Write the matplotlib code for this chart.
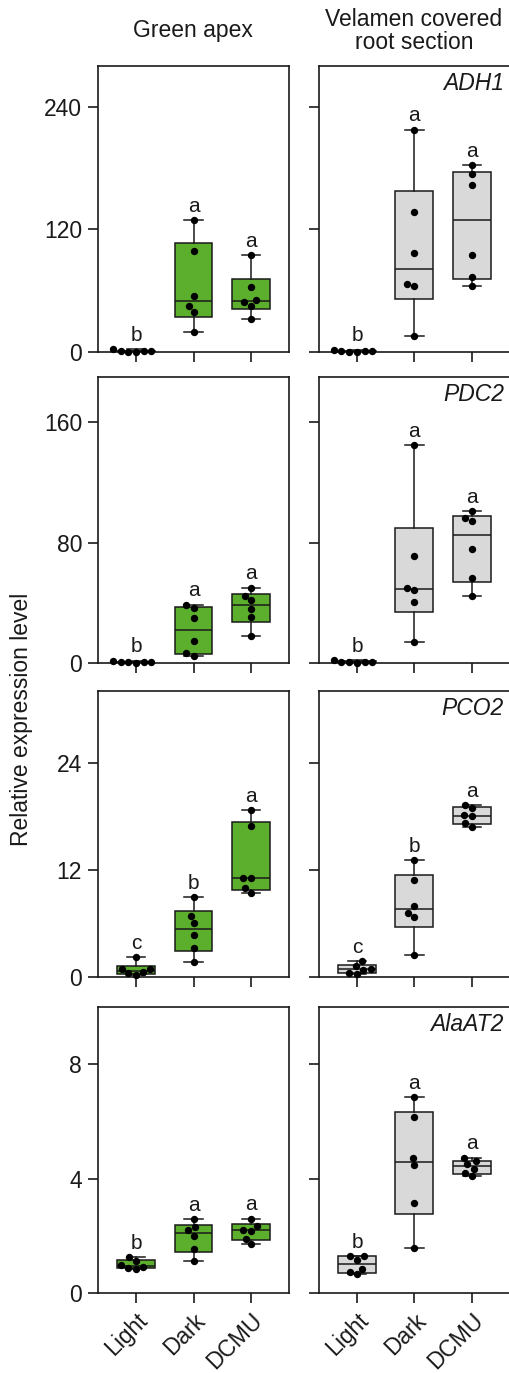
import matplotlib
matplotlib.use("Agg")
import matplotlib.pyplot as plt
import numpy as np
import seaborn as sns

plt.rcParams['font.family'] = ['Liberation Sans', 'DejaVu Sans']

conditions = ['Light', 'Dark', 'DCMU']
genes = ['ADH1', 'PDC2', 'PCO2', 'AlaAT2']
tissues = ['Green apex', 'Velamen covered\nroot section']

# six replicates per condition (Light, Dark, DCMU)
apex_adh1 = [[0.4, 0.6, 0.8, 2.5, 0.7, 0.3],
             [129.3, 98.9, 55.3, 44.9, 39.3, 19.3],
             [95.0, 63.2, 50.8, 48.5, 45.2, 32.7]]
root_adh1 = [[0.5, 0.7, 0.4, 2.2, 0.6, 0.3],
             [217.7, 137.5, 96.6, 66.8, 64.5, 15.4],
             [182.7, 173.9, 163.1, 95.0, 73.7, 64.8]]
apex_pdc2 = [[0.5, 0.8, 0.4, 1.5, 0.6, 0.3],
             [38.8, 36.8, 30.0, 14.4, 6.5, 4.9],
             [49.9, 44.8, 41.7, 36.0, 30.4, 18.2]]
root_pdc2 = [[0.5, 0.8, 0.4, 2.0, 0.6, 0.3],
             [144.7, 71.2, 49.7, 48.2, 40.8, 14.2],
             [101.0, 96.5, 94.3, 75.5, 56.6, 44.4]]
apex_pco2 = [[2.24, 0.95, 0.85, 0.6, 0.4, 0.26],
             [8.90, 6.88, 6.09, 4.75, 3.25, 1.68],
             [18.65, 16.93, 11.03, 11.03, 9.91, 9.35]]
root_pco2 = [[1.76, 1.2, 0.95, 0.8, 0.5, 0.3],
             [13.08, 10.84, 7.93, 7.18, 6.69, 2.43],
             [19.25, 18.9, 18.1, 18.0, 17.2, 16.82]]
apex_alaat2 = [[1.26, 1.12, 0.97, 0.92, 0.88, 0.85],
               [2.57, 2.30, 2.20, 2.01, 1.55, 1.11],
               [2.60, 2.33, 2.21, 2.17, 1.90, 1.70]]
root_alaat2 = [[1.28, 1.16, 1.28, 0.85, 0.73, 0.65],
               [6.85, 6.15, 4.71, 4.46, 3.15, 1.58],
               [4.73, 4.60, 4.50, 4.35, 4.20, 4.10]]

apex_letters = [['b', 'a', 'a'], ['b', 'a', 'a'], ['c', 'b', 'a'], ['b', 'a', 'a']]
root_letters = [['b', 'a', 'a'], ['b', 'a', 'a'], ['c', 'b', 'a'], ['b', 'a', 'a']]

y_max = [280, 190, 32, 10]
y_ticks = [[0, 120, 240], [0, 80, 160], [0, 12, 24], [0, 4, 8]]

apex_data = [apex_adh1, apex_pdc2, apex_pco2, apex_alaat2]
root_data = [root_adh1, root_pdc2, root_pco2, root_alaat2]

W, H = 509, 1373
fig = plt.figure(figsize=(W / 100, H / 100), dpi=100)

col_left = [98, 319]
col_width = [191, 192]
row_top = [66, 377, 691, 1007]
row_h = 286
fills = ['#5cae2d', '#d9d9d9']
ink = '#1a1a1a'
lw = 1.1

for r, gene in enumerate(genes):
    for c in range(2):
        ax = fig.add_axes([col_left[c] / W, 1 - (row_top[r] + row_h) / H,
                           col_width[c] / W, row_h / H])
        groups = apex_data[r] if c == 0 else root_data[r]
        letters = apex_letters[r] if c == 0 else root_letters[r]
        # Prism-style quartiles
        stats = []
        for vals in groups:
            q1, med, q3 = np.percentile(vals, [25, 50, 75], method='weibull')
            stats.append(dict(med=med, q1=q1, q3=q3,
                              whislo=min(vals), whishi=max(vals)))
        ax.bxp(stats, positions=[0, 1, 2], widths=0.66, capwidths=0.32,
               patch_artist=True, showfliers=False, zorder=2,
               boxprops=dict(facecolor=fills[c], edgecolor=ink, linewidth=lw),
               medianprops=dict(color=ink, linewidth=lw),
               whiskerprops=dict(color=ink, linewidth=lw),
               capprops=dict(color=ink, linewidth=lw))
        xs = np.repeat([0, 1, 2], [len(g) for g in groups])
        ys = np.concatenate(groups)
        sns.swarmplot(x=xs, y=ys, native_scale=True, orient='x', color='black',
                      size=5.3, ax=ax, zorder=3, clip_on=False, linewidth=0)
        for i, vals in enumerate(groups):
            ax.annotate(letters[i], (i, max(vals)), xytext=(0, 10),
                        textcoords='offset points', ha='center', va='center',
                        fontsize=15, color=ink)

        ax.set_xlim(-0.66, 2.66 if c == 0 else 2.68)
        ax.set_ylim(0, y_max[r])
        ax.set_yticks(y_ticks[r])
        ax.set_xticks([0, 1, 2])
        ax.set_xlabel('')
        ax.set_ylabel('')
        for s in ax.spines.values():
            s.set_linewidth(1.2)
            s.set_color(ink)
        ax.tick_params(direction='out', length=7.5, width=1.2, color=ink,
                       labelsize=16.5, pad=4, labelcolor=ink)
        if c == 1:
            ax.tick_params(labelleft=False)
            ax.text(0.963, 0.94, gene, transform=ax.transAxes, ha='right',
                    va='center', fontsize=16.5, style='italic', color=ink)
        if r < 3:
            ax.tick_params(labelbottom=False)
        else:
            ax.set_xticklabels(conditions, rotation=45, ha='right', va='top',
                               rotation_mode='anchor')

fig.text(193 / W, 1 - 30 / H, tissues[0], ha='center', va='center',
         fontsize=16.5, color=ink)
fig.text(414 / W, 1 - 31 / H, tissues[1], ha='center', va='center',
         fontsize=16.5, color=ink, linespacing=1.0, multialignment='center')
fig.text(22 / W, 1 - 719 / H, 'Relative expression level', rotation=90,
         ha='center', va='center', fontsize=16.5, color=ink)

fig.savefig('out.png', dpi=100)
